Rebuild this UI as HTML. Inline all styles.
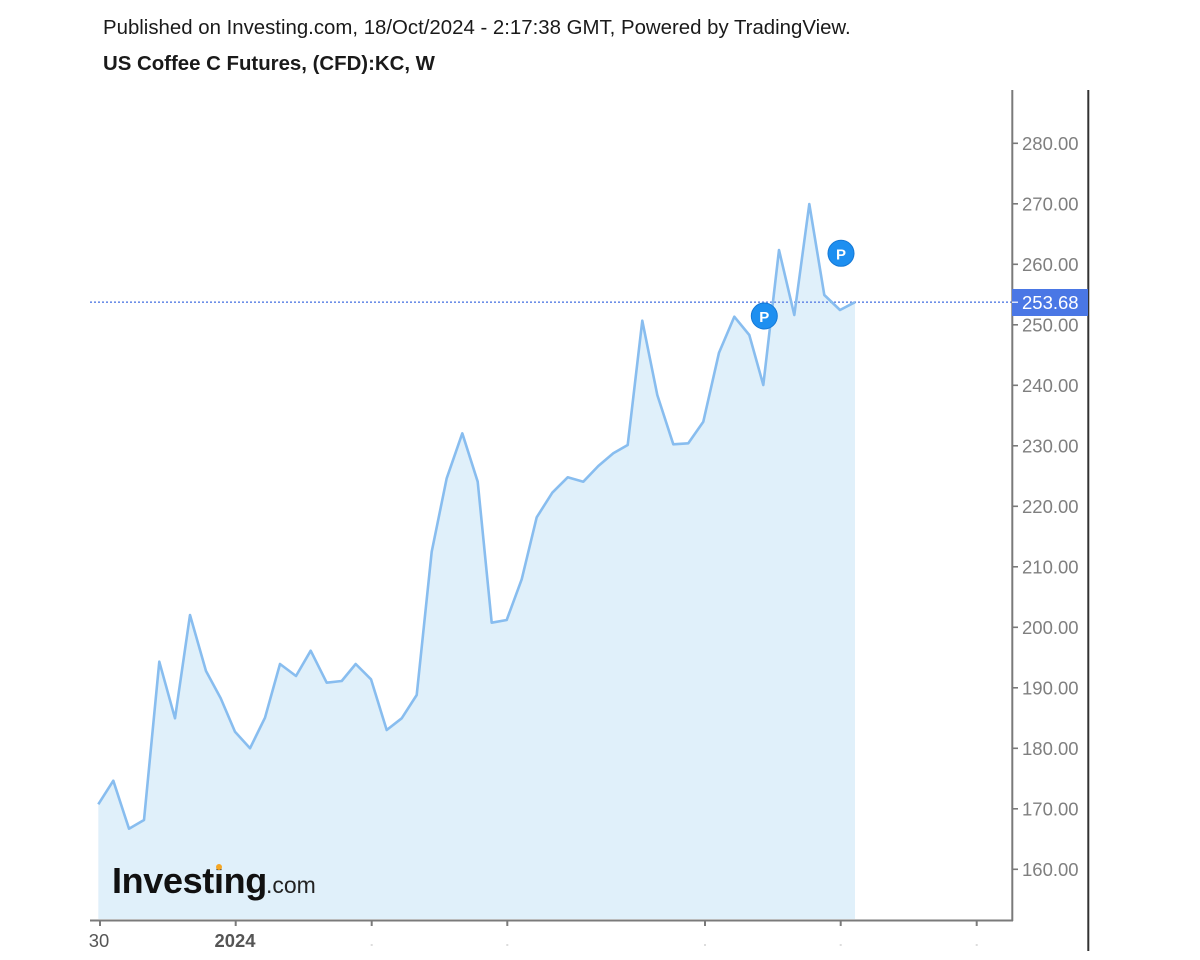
<!DOCTYPE html>
<html>
<head>
<meta charset="utf-8">
<style>
  html, body { margin:0; padding:0; background:#ffffff; }
  body { width:1200px; height:960px; overflow:hidden; position:relative; }
  svg { position:absolute; left:0; top:0; }
  text { font-family:"Liberation Sans", Arial, sans-serif; }
</style>
</head>
<body>
<svg width="1200" height="960" viewBox="0 0 1200 960" xmlns="http://www.w3.org/2000/svg">
  <rect x="0" y="0" width="1200" height="960" fill="#ffffff"/>

  <!-- Header -->
  <text x="103" y="34" font-size="20.4" fill="#1a1a1a">Published on Investing.com, 18/Oct/2024 - 2:17:38 GMT, Powered by TradingView.</text>
  <text x="103" y="70" font-size="20.4" font-weight="bold" fill="#1a1a1a">US Coffee C Futures, (CFD):KC, W</text>

  <!-- Area fill -->
  <polygon fill="#e0f0fa" points="98.3,804.3 113.3,780.7 129,828.7 144,820 159.3,661.7 175,718.3 190,615 206,671 220.7,698.3 235,731.7 250,748.3 265,717.7 280,664 296,676 310.7,650.7 326.7,682.7 341.7,681 355.7,664 371,679.3 386.7,730 401.7,718.3 416.7,695 431.7,551.7 446.7,478.3 462.3,433.3 477.7,481.7 491.7,622.7 506.7,620 521.7,579.3 536.7,517.3 552.3,492.7 567.7,477.3 583.3,481.7 598.3,466 613.3,453.3 627.7,445 642.3,320.7 657.3,395 673.3,444.3 688.3,443.3 703.3,421.7 719,352.7 734.3,316.7 749.3,335 763.3,385 779,250 794.3,315 809.3,204 824.3,295 840,310 855,302.2 855,919 98.3,919"/>

  <!-- Logo -->
  <text x="112" y="893" font-size="36" font-weight="bold" fill="#111111" letter-spacing="-0.35">Investing</text>
  <circle cx="219" cy="867" r="3" fill="#f5a623"/>
  <text x="266" y="893" font-size="23" fill="#222222">.com</text>

  <!-- Last price dotted line -->
  <line x1="90" y1="302.2" x2="1012" y2="302.2" stroke="#6d8fe8" stroke-width="1.6" stroke-dasharray="2,2"/>

  <!-- Line -->
  <polyline fill="none" stroke="#88bdef" stroke-width="2.6" stroke-linejoin="round" points="98.3,804.3 113.3,780.7 129,828.7 144,820 159.3,661.7 175,718.3 190,615 206,671 220.7,698.3 235,731.7 250,748.3 265,717.7 280,664 296,676 310.7,650.7 326.7,682.7 341.7,681 355.7,664 371,679.3 386.7,730 401.7,718.3 416.7,695 431.7,551.7 446.7,478.3 462.3,433.3 477.7,481.7 491.7,622.7 506.7,620 521.7,579.3 536.7,517.3 552.3,492.7 567.7,477.3 583.3,481.7 598.3,466 613.3,453.3 627.7,445 642.3,320.7 657.3,395 673.3,444.3 688.3,443.3 703.3,421.7 719,352.7 734.3,316.7 749.3,335 763.3,385 779,250 794.3,315 809.3,204 824.3,295 840,310 855,302.2"/>

  <!-- P markers -->
  <circle cx="764.3" cy="316" r="13" fill="#1e8ff0" stroke="#1478d6" stroke-width="1"/>
  <text x="764.3" y="322" font-size="15" font-weight="bold" fill="#ffffff" text-anchor="middle">P</text>
  <circle cx="841" cy="253.3" r="13" fill="#1e8ff0" stroke="#1478d6" stroke-width="1"/>
  <text x="841" y="259.3" font-size="15" font-weight="bold" fill="#ffffff" text-anchor="middle">P</text>

  <!-- X axis -->
  <line x1="90" y1="920.5" x2="1013" y2="920.5" stroke="#7a7a7a" stroke-width="2"/>
  <g stroke="#7a7a7a" stroke-width="2">
    <line x1="100" y1="920" x2="100" y2="926"/>
    <line x1="235.7" y1="920" x2="235.7" y2="926"/>
    <line x1="371.7" y1="920" x2="371.7" y2="926"/>
    <line x1="507.3" y1="920" x2="507.3" y2="926"/>
    <line x1="705" y1="920" x2="705" y2="926"/>
    <line x1="840.7" y1="920" x2="840.7" y2="926"/>
    <line x1="976.7" y1="920" x2="976.7" y2="926"/>
  </g>
  <g fill="#bbbbbb">
    <rect x="370.7" y="944.5" width="2" height="1"/>
    <rect x="506.3" y="944.5" width="2" height="1"/>
    <rect x="704" y="944.5" width="2" height="1"/>
    <rect x="839.7" y="944.5" width="2" height="1"/>
    <rect x="975.7" y="944.5" width="2" height="1"/>
  </g>
  <text x="99" y="947" font-size="18.4" fill="#555555" text-anchor="middle">30</text>
  <text x="235" y="947" font-size="18.4" font-weight="bold" fill="#555555" text-anchor="middle">2024</text>

  <!-- Y axis -->
  <line x1="1012.3" y1="90" x2="1012.3" y2="921" stroke="#7a7a7a" stroke-width="2"/>
  <line x1="1088.3" y1="90" x2="1088.3" y2="951" stroke="#333333" stroke-width="2"/>
  <g stroke="#7a7a7a" stroke-width="1.6">
    <line x1="1012" y1="143.3" x2="1018" y2="143.3"/>
    <line x1="1012" y1="203.8" x2="1018" y2="203.8"/>
    <line x1="1012" y1="264.3" x2="1018" y2="264.3"/>
    <line x1="1012" y1="324.8" x2="1018" y2="324.8"/>
    <line x1="1012" y1="385.3" x2="1018" y2="385.3"/>
    <line x1="1012" y1="445.8" x2="1018" y2="445.8"/>
    <line x1="1012" y1="506.3" x2="1018" y2="506.3"/>
    <line x1="1012" y1="566.8" x2="1018" y2="566.8"/>
    <line x1="1012" y1="627.3" x2="1018" y2="627.3"/>
    <line x1="1012" y1="687.8" x2="1018" y2="687.8"/>
    <line x1="1012" y1="748.3" x2="1018" y2="748.3"/>
    <line x1="1012" y1="808.8" x2="1018" y2="808.8"/>
    <line x1="1012" y1="869.3" x2="1018" y2="869.3"/>
  </g>
  <g font-size="18.5" fill="#7f7f7f">
    <text x="1022" y="150">280.00</text>
    <text x="1022" y="210.5">270.00</text>
    <text x="1022" y="271">260.00</text>
    <text x="1022" y="331.5">250.00</text>
    <text x="1022" y="392">240.00</text>
    <text x="1022" y="452.5">230.00</text>
    <text x="1022" y="513">220.00</text>
    <text x="1022" y="573.5">210.00</text>
    <text x="1022" y="634">200.00</text>
    <text x="1022" y="694.5">190.00</text>
    <text x="1022" y="755">180.00</text>
    <text x="1022" y="815.5">170.00</text>
    <text x="1022" y="876">160.00</text>
  </g>

  <!-- Price label -->
  <rect x="1012" y="289" width="76" height="27" fill="#4a77e5"/>
  <line x1="1012" y1="302.2" x2="1018" y2="302.2" stroke="#ffffff" stroke-width="1.2"/>
  <text x="1022" y="309" font-size="18.5" fill="#ffffff">253.68</text>
</svg>
</body>
</html>
